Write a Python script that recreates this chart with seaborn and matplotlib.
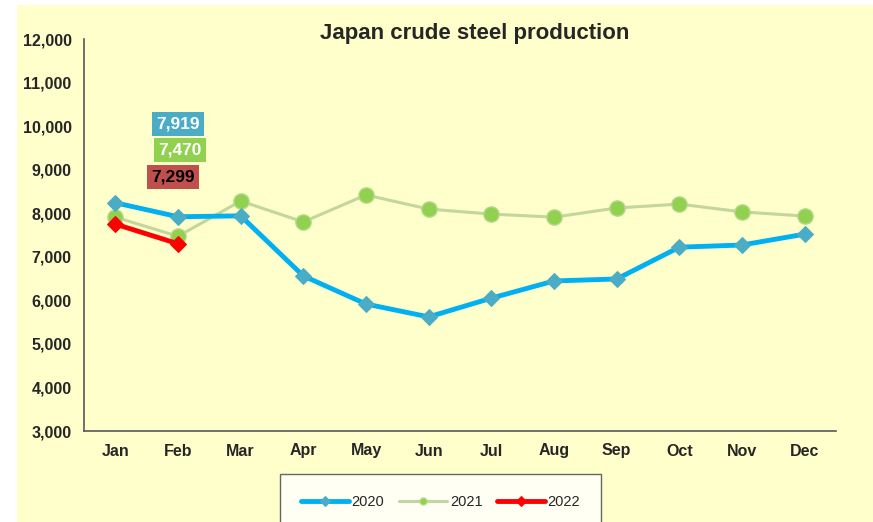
import numpy as np
import pandas as pd
import matplotlib
matplotlib.use('Agg')
import matplotlib.pyplot as plt
import matplotlib.patches as mpatches
import seaborn as sns

months = ['Jan', 'Feb', 'Mar', 'Apr', 'May', 'Jun', 'Jul', 'Aug', 'Sep', 'Oct', 'Nov', 'Dec']
prod_2020 = [8240, 7919, 7940, 6560, 5915, 5620, 6050, 6445, 6490, 7220, 7270, 7520]
prod_2021 = [7910, 7470, 8280, 7800, 8420, 8095, 7980, 7910, 8120, 8210, 8030, 7935]
prod_2022 = [7750, 7299]
yticks = [3000, 4000, 5000, 6000, 7000, 8000, 9000, 10000, 11000, 12000]

sns.set_style('white')
plt.rcParams['font.family'] = ['Liberation Sans', 'DejaVu Sans']

bg = '#FFFFCC'
fig = plt.figure(figsize=(8.73, 5.22), dpi=100)
fig.patch.set_facecolor('white')
# yellow chart area, leaving a thin white strip on the left and top
fig.patches.append(mpatches.Rectangle((17 / 873, 0), 1, 1 - 5 / 522, transform=fig.transFigure,
                                      facecolor=bg, edgecolor='none', zorder=-10))
ax = fig.add_axes([84 / 873, 1 - 431 / 522, (836 - 84) / 873, (431 - 39) / 522])
ax.set_facecolor('none')

x = np.arange(len(months))
df20 = pd.DataFrame({'x': x, 'v': prod_2020})
df21 = pd.DataFrame({'x': x, 'v': prod_2021})
df22 = pd.DataFrame({'x': x[:len(prod_2022)], 'v': prod_2022})

sns.lineplot(data=df21, x='x', y='v', ax=ax, color='#C3D69B', lw=2.2, marker='o', markersize=11,
             markerfacecolor='#92D050', markeredgecolor='#B5D98A', markeredgewidth=1, label='2021', zorder=2)
sns.lineplot(data=df20, x='x', y='v', ax=ax, color='#00B0F0', lw=3.5, marker='D', markersize=8.5,
             markerfacecolor='#4BACC6', markeredgecolor='#4BACC6', label='2020', zorder=3)
sns.lineplot(data=df22, x='x', y='v', ax=ax, color='#FF0000', lw=3.5, marker='D', markersize=8.5,
             markerfacecolor='#FF0000', markeredgecolor='#FF0000', label='2022', zorder=4)

ax.set_xlim(-0.5, 11.5)
ax.set_ylim(3000, 12000)
ax.set_yticks(yticks)
ax.set_yticklabels([f'{v:,}' for v in yticks], fontsize=11.5, fontweight='bold')
ax.set_xticks(np.arange(-0.5, 12, 1))
ax.set_xticklabels([])
ax.set_xticks(x, minor=True)
ax.set_xticklabels(months, minor=True, fontsize=11.5, fontweight='bold')
ax.tick_params(axis='x', which='major', direction='out', length=5, color='#404040', width=1)
ax.tick_params(axis='x', which='minor', length=0, pad=9)
ax.tick_params(axis='y', direction='out', length=5, color='#404040', width=1, pad=4)
ax.set_xlabel('')
ax.set_ylabel('')
for s in ['top', 'right']:
    ax.spines[s].set_visible(False)
for s in ['left', 'bottom']:
    ax.spines[s].set_color('#595959')
    ax.spines[s].set_linewidth(1.2)

ax.set_title('Japan crude steel production', fontsize=16, fontweight='bold', pad=0, x=0.519, y=1.0)

# Feb value labels
ax.text(1.0, 10050, f'{prod_2020[1]:,}', ha='center', va='center', fontsize=12.5, fontweight='bold', color='white',
        bbox=dict(boxstyle='square,pad=0.25', facecolor='#4BACC6', edgecolor='none'))
ax.text(1.03, 9450, f'{prod_2021[1]:,}', ha='center', va='center', fontsize=12.5, fontweight='bold', color='white',
        bbox=dict(boxstyle='square,pad=0.25', facecolor='#92D050', edgecolor='none'))
ax.text(0.92, 8830, f'{prod_2022[1]:,}', ha='center', va='center', fontsize=12.5, fontweight='bold', color='black',
        bbox=dict(boxstyle='square,pad=0.25', facecolor='#C0504D', edgecolor='none'))

h, l = ax.get_legend_handles_labels()
order = [l.index('2020'), l.index('2021'), l.index('2022')]
ax.get_legend().remove()
leg = fig.legend([h[i] for i in order], [l[i] for i in order], loc='upper left',
                 bbox_to_anchor=(273 / 873, 1 - 467 / 522, 335 / 873, 0), mode='expand',
                 ncol=3, frameon=True, fancybox=False, fontsize=10.5, borderpad=1.4,
                 handlelength=3.3, handletextpad=0.2, columnspacing=2)
leg.get_frame().set_edgecolor('#404040')
leg.get_frame().set_linewidth(1)
for line in leg.get_lines():
    line.set_markersize(5)

fig.savefig('out.png', dpi=100, facecolor=fig.get_facecolor())
